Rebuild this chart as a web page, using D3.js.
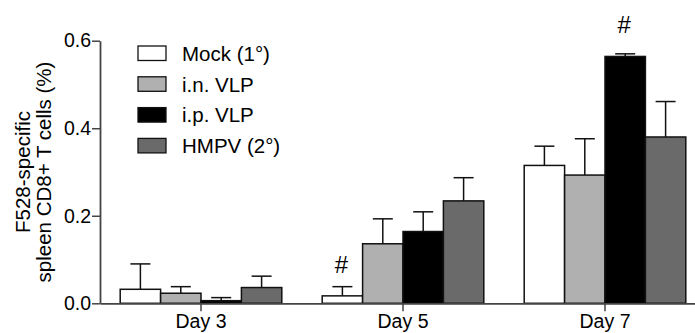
<!DOCTYPE html>
<html>
<head>
<meta charset="utf-8">
<script src="https://cdn.jsdelivr.net/npm/d3@7"></script>
<style>
  body { margin: 0; background: #fff; }
  svg text { font-family: Arial, "Liberation Sans", sans-serif; fill: #000; }
</style>
</head>
<body>
<div id="plot"></div>
<script>
// categories and series
var days = ["Day 3", "Day 5", "Day 7"];
var groups = ["Mock (1°)", "i.n. VLP", "i.p. VLP", "HMPV (2°)"];
var groupColors = ["#ffffff", "#b0b0b0", "#000000", "#6a6a6a"];

// mean values per group, one entry per day
var mockVals = [0.032, 0.017, 0.315];
var inVals = [0.023, 0.136, 0.293];
var ipVals = [0.006, 0.164, 0.564];
var hmpvVals = [0.036, 0.234, 0.380];

// error bar tops (mean + SEM)
var mockErr = [0.090, 0.038, 0.359];
var inErr = [0.038, 0.193, 0.376];
var ipErr = [0.013, 0.209, 0.570];
var hmpvErr = [0.062, 0.287, 0.461];

var yTicks = [0.0, 0.2, 0.4, 0.6];

// significance marks: [day, group]
var marks = [["Day 5", "Mock (1°)"], ["Day 7", "i.p. VLP"]];

var allVals = [mockVals, inVals, ipVals, hmpvVals];
var allErr = [mockErr, inErr, ipErr, hmpvErr];

var data = [];
groups.forEach(function(g, gi) {
  days.forEach(function(d, di) {
    data.push({day: d, group: g, value: allVals[gi][di], err: allErr[gi][di]});
  });
});

var w = 695, h = 333;
var margin = {left: 100, top: 40.7, bottom: 29.7};

var svg = d3.select("#plot").append("svg")
  .attr("width", w)
  .attr("height", h);

// scales
var x0 = d3.scaleBand().domain(days).range([margin.left, margin.left + 606]).padding(0);
var x1 = d3.scaleBand().domain(groups).range([x0.bandwidth() * 0.1, x0.bandwidth() * 0.9]).padding(0);
var y = d3.scaleLinear().domain([0, 0.6]).range([h - margin.bottom, margin.top]);
var color = d3.scaleOrdinal().domain(groups).range(groupColors);

var cx = function(d) { return x0(d.day) + x1(d.group) + x1.bandwidth() / 2; };

// error bars (drawn under the bars)
var err = svg.append("g").selectAll("g")
  .data(data)
  .enter().append("g")
  .attr("stroke", "#111")
  .attr("stroke-width", 1.5);

err.append("line")
  .attr("x1", cx)
  .attr("x2", cx)
  .attr("y1", function(d) { return y(d.value); })
  .attr("y2", function(d) { return y(d.err); });

err.append("line")
  .attr("x1", function(d) { return cx(d) - 10; })
  .attr("x2", function(d) { return cx(d) + 10; })
  .attr("y1", function(d) { return y(d.err); })
  .attr("y2", function(d) { return y(d.err); });

// bars
svg.append("g").selectAll("rect")
  .data(data)
  .enter().append("rect")
  .attr("x", function(d) { return x0(d.day) + x1(d.group); })
  .attr("y", function(d) { return y(d.value); })
  .attr("width", x1.bandwidth())
  .attr("height", function(d) { return y(0) - y(d.value); })
  .attr("fill", function(d) { return color(d.group); })
  .attr("stroke", "#111")
  .attr("stroke-width", 1.5);

// x axis
var xAxis = svg.append("g")
  .attr("transform", "translate(0," + y(0) + ")")
  .call(d3.axisBottom(x0).tickSize(8).tickPadding(3).tickSizeOuter(0));
xAxis.select(".domain").attr("stroke", "#444").attr("stroke-width", 1.8);
xAxis.selectAll(".tick line").attr("stroke", "#444").attr("stroke-width", 1.5);
xAxis.selectAll("text").style("font-size", "19.5px").attr("fill", "#000");

// y axis
var yAxis = svg.append("g")
  .attr("transform", "translate(" + margin.left + ",0)")
  .call(d3.axisLeft(y).tickValues(yTicks).tickFormat(d3.format(".1f")).tickSize(8).tickPadding(1).tickSizeOuter(0));
yAxis.select(".domain").attr("stroke", "#444").attr("stroke-width", 1.8);
yAxis.selectAll(".tick line").attr("stroke", "#444").attr("stroke-width", 1.5);
yAxis.selectAll("text").style("font-size", "19.5px").attr("fill", "#000");

// y axis title
var yTitle = svg.append("text")
  .attr("transform", "translate(0," + ((y(0) + y(0.6)) / 2) + ") rotate(-90)")
  .attr("text-anchor", "middle")
  .style("font-size", "20.5px");
yTitle.append("tspan").attr("x", 0).attr("y", 30).text("F528-specific");
yTitle.append("tspan").attr("x", 0).attr("y", 50.5).text("spleen CD8+ T cells (%)");

// significance marks
svg.selectAll(".mark")
  .data(marks)
  .enter().append("text")
  .attr("class", "mark")
  .attr("x", function(d) { return x0(d[0]) + x1(d[1]) + x1.bandwidth() / 2 - 1; })
  .attr("y", function(d) {
    var row = data.filter(function(r) { return r.day == d[0] && r.group == d[1]; })[0];
    return y(row.err) - (d[1] == "Mock (1°)" ? 14 : 21);
  })
  .attr("text-anchor", "middle")
  .style("font-size", "24px")
  .text("#");

// legend
var legend = svg.append("g").selectAll("g")
  .data(groups)
  .enter().append("g")
  .attr("transform", function(d, i) { return "translate(138," + (46 + i * 30.8) + ")"; });

legend.append("rect")
  .attr("width", 28)
  .attr("height", 14.5)
  .attr("fill", color)
  .attr("stroke", "#111")
  .attr("stroke-width", 1.3);

legend.append("text")
  .attr("x", 44)
  .attr("y", 7.5)
  .attr("dy", "0.36em")
  .style("font-size", "20.5px")
  .text(function(d) { return d; });
</script>
</body>
</html>
